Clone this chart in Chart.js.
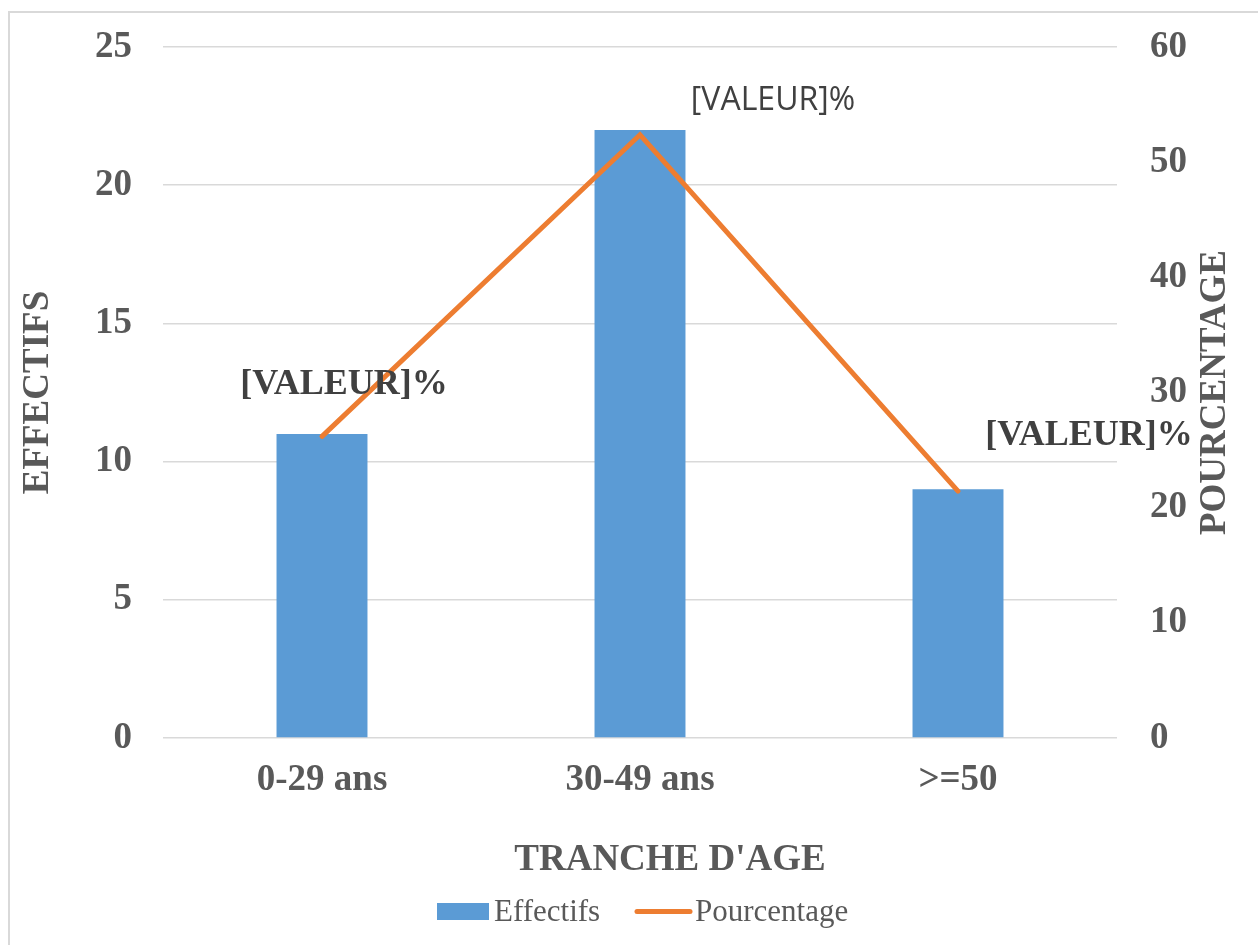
<!DOCTYPE html>
<html lang="fr">
<head>
<meta charset="utf-8">
<title>Tranche d'âge</title>
<script src="https://cdn.jsdelivr.net/npm/chart.js@4.4.1/dist/chart.umd.min.js"></script>
<style>
  html, body { margin: 0; padding: 0; background: #ffffff; }
  canvas { display: block; }
</style>
</head>
<body>
<canvas id="chart" width="1258" height="945"></canvas>
<script>
// Age brackets and the two series
const categories = ['0-29 ans', '30-49 ans', '>=50'];
const effectifs = [11, 22, 9];
const pourcentage = [26.19, 52.38, 21.43];
const seriesNames = ['Effectifs', 'Pourcentage'];
const pointLabels = ['[VALEUR]%', '[VALEUR]%', '[VALEUR]%'];
const leftTicks = [0, 5, 10, 15, 20, 25];
const rightTicks = [0, 10, 20, 30, 40, 50, 60];

const GREY = '#595959';
const SERIF = '"Liberation Serif", "Times New Roman", serif';

// Outer frame, axis titles, legend and point labels
const decorations = {
  id: 'decorations',
  beforeDraw(chart) {
    const ctx = chart.ctx;
    ctx.save();
    ctx.strokeStyle = '#D9D9D9';
    ctx.lineWidth = 2;
    ctx.strokeRect(9, 12, 1270, 960);
    ctx.restore();
  },
  afterDraw(chart) {
    const ctx = chart.ctx;
    const area = chart.chartArea;
    const midY = (area.top + area.bottom) / 2;

    // axis titles; the vertical ones both read bottom to top
    ctx.save();
    ctx.fillStyle = GREY;
    ctx.font = 'bold 37px ' + SERIF;
    ctx.textAlign = 'center';
    ctx.textBaseline = 'middle';
    [['EFFECTIFS', 38], ['POURCENTAGE', 1215]].forEach(([t, x]) => {
      ctx.save();
      ctx.translate(x, midY);
      ctx.rotate(-Math.PI / 2);
      ctx.fillText(t, 0, 0);
      ctx.restore();
    });
    ctx.fillText("TRANCHE D'AGE", 670, 860);
    ctx.restore();

    // labels next to the percentage line points
    const meta = chart.getDatasetMeta(0);
    const styles = [
      { dx: 22, dy: -52, font: 'bold 36px ' + SERIF },
      { dx: 133, dy: -34, font: '32px "Open Sans", "Noto Sans", sans-serif' },
      { dx: 131, dy: -55, font: 'bold 36px ' + SERIF }
    ];
    ctx.save();
    ctx.fillStyle = '#404040';
    ctx.textAlign = 'center';
    ctx.textBaseline = 'middle';
    meta.data.forEach((pt, i) => {
      const s = styles[i];
      ctx.font = s.font;
      ctx.fillText(pointLabels[i], pt.x + s.dx, pt.y + s.dy);
    });
    ctx.restore();

    // legend
    const bar = chart.data.datasets[1];
    const line = chart.data.datasets[0];
    ctx.save();
    ctx.font = '31px ' + SERIF;
    ctx.textBaseline = 'alphabetic';
    ctx.textAlign = 'left';
    ctx.fillStyle = bar.backgroundColor;
    ctx.fillRect(437, 903, 52, 17);
    ctx.fillStyle = GREY;
    ctx.fillText(bar.label, 494, 921);
    ctx.strokeStyle = line.borderColor;
    ctx.lineWidth = 5;
    ctx.lineCap = 'round';
    ctx.beginPath();
    ctx.moveTo(637, 911.5);
    ctx.lineTo(690, 911.5);
    ctx.stroke();
    ctx.fillText(line.label, 695, 921);
    ctx.restore();
  }
};

// vertical axes: fixed width, no extra room reserved above or below
function fixVertical(width) {
  return function (scale) {
    scale.width = width;
    scale.paddingTop = 0;
    scale.paddingBottom = 0;
  };
}

new Chart(document.getElementById('chart'), {
  data: {
    labels: categories,
    datasets: [
      {
        type: 'line',
        label: seriesNames[1],
        data: pourcentage,
        yAxisID: 'y1',
        borderColor: '#ED7D31',
        backgroundColor: '#ED7D31',
        borderWidth: 5,
        borderCapStyle: 'round',
        pointRadius: 0,
        pointHoverRadius: 0,
        tension: 0
      },
      {
        type: 'bar',
        label: seriesNames[0],
        data: effectifs,
        yAxisID: 'y',
        backgroundColor: '#5B9BD5',
        categoryPercentage: 1,
        barPercentage: 0.286
      }
    ]
  },
  options: {
    responsive: false,
    animation: false,
    layout: { padding: { top: 47, left: 0, right: 0, bottom: 0 } },
    plugins: {
      legend: { display: false },
      tooltip: { enabled: false }
    },
    scales: {
      x: {
        grid: { display: false, drawTicks: false },
        border: { display: false },
        ticks: {
          color: GREY,
          font: { family: SERIF, size: 37, weight: 'bold' },
          padding: 20
        },
        afterFit(scale) { scale.height = 207; }
      },
      y: {
        position: 'left',
        min: 0,
        max: 25,
        afterBuildTicks(scale) { scale.ticks = leftTicks.map(v => ({ value: v })); },
        grid: { color: '#D9D9D9', lineWidth: 1.5, drawTicks: false },
        border: { display: false },
        ticks: {
          color: GREY,
          font: { family: SERIF, size: 37, weight: 'bold' },
          padding: 31
        },
        afterFit: fixVertical(163)
      },
      y1: {
        position: 'right',
        min: 0,
        max: 60,
        afterBuildTicks(scale) { scale.ticks = rightTicks.map(v => ({ value: v })); },
        grid: { display: false, drawTicks: false },
        border: { display: false },
        ticks: {
          color: GREY,
          font: { family: SERIF, size: 37, weight: 'bold' },
          padding: 33
        },
        afterFit: fixVertical(141)
      }
    }
  },
  plugins: [decorations]
});
</script>
</body>
</html>
